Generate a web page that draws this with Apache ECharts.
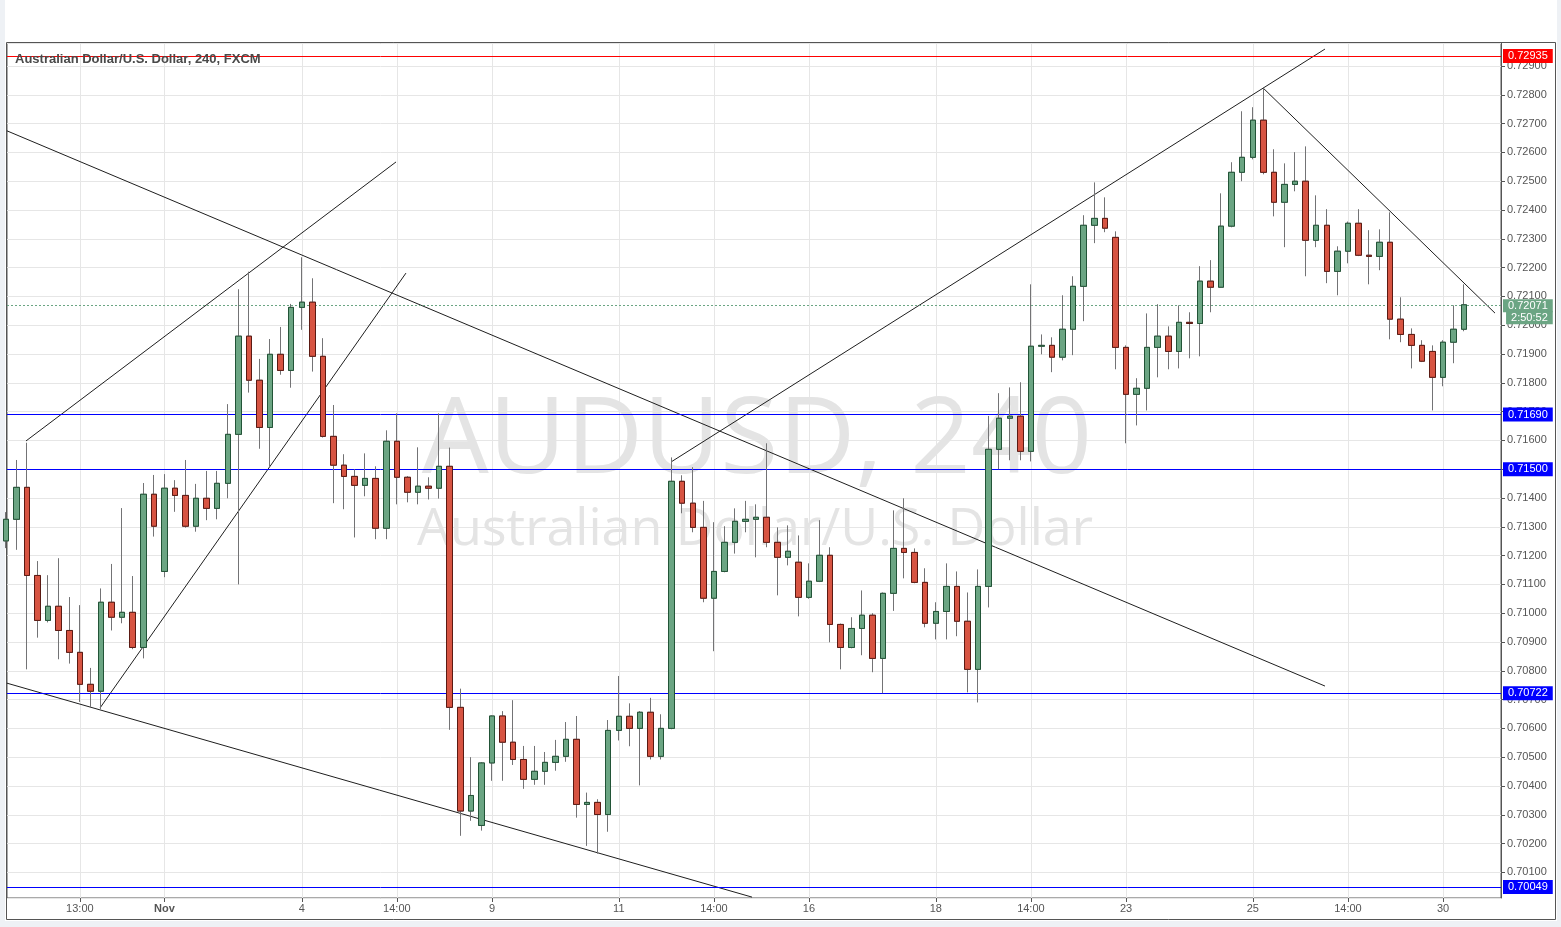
<!DOCTYPE html>
<html>
<head>
<meta charset="utf-8">
<script src="https://cdn.jsdelivr.net/npm/echarts@6/dist/echarts.min.js"></script>
<style>
html,body{margin:0;padding:0;background:#eef1f5;overflow:hidden;}
#paper{position:absolute;left:5px;top:0;width:1552px;height:921px;background:#fff;}
#c{position:absolute;left:0;top:0;width:1561px;height:927px;}
</style>
</head>
<body>
<div id="paper"></div>
<div id="c"></div>
<script>
// ---- data (AUD/USD, 240 min candles, FXCM) ----
const open = [0.71251,0.71326,0.71437,0.71131,0.70975,0.71024,0.70940,0.70864,0.70753,0.70729,
0.71038,0.70986,0.71003,0.70881,0.71413,0.71145,0.71434,0.71409,0.71302,0.71399,
0.71364,0.71451,0.71621,0.71962,0.71809,0.71645,0.71899,0.71843,0.72062,0.72080,
0.71892,0.71614,0.71514,0.71475,0.71444,0.71468,0.71295,0.71597,0.71472,0.71420,
0.71441,0.71434,0.71510,0.70673,0.70313,0.70263,0.70480,0.70643,0.70552,0.70492,
0.70423,0.70451,0.70482,0.70503,0.70562,0.70336,0.70343,0.70301,0.70593,0.70642,
0.70600,0.70656,0.70503,0.70600,0.71458,0.71382,0.71298,0.71052,0.71145,0.71246,
0.71319,0.71326,0.71333,0.71246,0.71194,0.71177,0.71055,0.71111,0.71201,0.70961,
0.70881,0.70947,0.70993,0.70843,0.71069,0.71225,0.71211,0.71107,0.70965,0.71006,
0.71093,0.70972,0.70805,0.71093,0.71569,0.71677,0.71684,0.71562,0.71927,0.71930,
0.71889,0.71986,0.72135,0.72347,0.72371,0.72305,0.71923,0.71760,0.71781,0.71923,
0.71962,0.71909,0.72010,0.72006,0.72153,0.72132,0.72344,0.72531,0.72583,0.72712,
0.72531,0.72427,0.72489,0.72500,0.72295,0.72347,0.72187,0.72257,0.72354,0.72243,
0.72239,0.72288,0.72021,0.71968,0.71930,0.71909,0.71819,0.71941,0.71986];
const close = [0.71326,0.71437,0.71131,0.70975,0.71024,0.70940,0.70864,0.70753,0.70729,0.71038,
0.70986,0.71003,0.70881,0.71413,0.71302,0.71434,0.71409,0.71302,0.71399,0.71364,
0.71451,0.71621,0.71962,0.71809,0.71645,0.71899,0.71843,0.72062,0.72080,0.71892,
0.71614,0.71514,0.71475,0.71444,0.71468,0.71295,0.71597,0.71472,0.71420,0.71441,
0.71434,0.71510,0.70673,0.70313,0.70367,0.70480,0.70643,0.70552,0.70492,0.70423,
0.70451,0.70482,0.70503,0.70562,0.70336,0.70343,0.70301,0.70593,0.70642,0.70600,
0.70656,0.70503,0.70600,0.71458,0.71382,0.71298,0.71052,0.71145,0.71246,0.71319,
0.71326,0.71333,0.71246,0.71194,0.71215,0.71055,0.71111,0.71201,0.70961,0.70881,
0.70947,0.70993,0.70843,0.71069,0.71225,0.71211,0.71107,0.70965,0.71006,0.71093,
0.70972,0.70805,0.71093,0.71569,0.71677,0.71684,0.71562,0.71927,0.71930,0.71889,
0.71986,0.72135,0.72347,0.72371,0.72337,0.71923,0.71760,0.71781,0.71923,0.71962,
0.71909,0.72010,0.72006,0.72153,0.72132,0.72344,0.72531,0.72583,0.72712,0.72531,
0.72427,0.72489,0.72500,0.72295,0.72347,0.72187,0.72257,0.72354,0.72243,0.72239,
0.72288,0.72021,0.71968,0.71930,0.71875,0.71819,0.71941,0.71986,0.72071];
const high = [0.71351,0.71532,0.71592,0.71181,0.71132,0.71191,0.71056,0.71028,0.70810,0.71086,
0.71171,0.71365,0.71129,0.71452,0.71480,0.71483,0.71462,0.71532,0.71449,0.71494,
0.71494,0.71726,0.72125,0.72186,0.71883,0.71952,0.71994,0.72074,0.72236,0.72163,
0.71955,0.71723,0.71552,0.71500,0.71555,0.71510,0.71635,0.71694,0.71476,0.71576,
0.71472,0.71694,0.71575,0.70738,0.70500,0.70483,0.70645,0.70660,0.70698,0.70539,
0.70539,0.70518,0.70560,0.70622,0.70643,0.70377,0.70354,0.70629,0.70782,0.70687,
0.70660,0.70706,0.70649,0.71541,0.71479,0.71507,0.71390,0.71316,0.71302,0.71364,
0.71390,0.71378,0.71590,0.71298,0.71305,0.71270,0.71173,0.71323,0.71229,0.70964,
0.70986,0.71079,0.71000,0.71072,0.71357,0.71399,0.71225,0.71156,0.71038,0.71173,
0.71145,0.71072,0.71152,0.71685,0.71764,0.71784,0.71802,0.72142,0.71968,0.71958,
0.72104,0.72170,0.72382,0.72496,0.72444,0.72326,0.71930,0.71816,0.72041,0.72073,
0.71996,0.72069,0.72045,0.72205,0.72226,0.72458,0.72566,0.72743,0.72757,0.72823,
0.72611,0.72562,0.72601,0.72621,0.72451,0.72403,0.72274,0.72360,0.72403,0.72330,
0.72333,0.72392,0.72097,0.71989,0.71948,0.71930,0.71948,0.72069,0.72142];
const low = [0.71226,0.71220,0.70805,0.70915,0.70968,0.70840,0.70825,0.70692,0.70673,0.70666,
0.70940,0.70965,0.70875,0.70843,0.71266,0.71125,0.71352,0.71297,0.71283,0.71323,
0.71326,0.71399,0.71100,0.71766,0.71571,0.71509,0.71828,0.71783,0.71984,0.71839,
0.71610,0.71382,0.71361,0.71263,0.71406,0.71257,0.71257,0.71378,0.71385,0.71378,
0.71395,0.71398,0.70595,0.70227,0.70279,0.70245,0.70418,0.70418,0.70473,0.70390,
0.70404,0.70404,0.70453,0.70484,0.70290,0.70192,0.70165,0.70241,0.70558,0.70538,
0.70402,0.70492,0.70492,0.70597,0.71347,0.71281,0.71038,0.70868,0.71142,0.71207,
0.71281,0.71194,0.71229,0.71062,0.71166,0.70989,0.71050,0.71108,0.70899,0.70805,
0.70878,0.70854,0.70795,0.70722,0.71008,0.71121,0.71104,0.70951,0.70909,0.70909,
0.70920,0.70725,0.70690,0.71020,0.71500,0.71531,0.71531,0.71527,0.71899,0.71837,
0.71878,0.71896,0.72014,0.72285,0.72323,0.71847,0.71590,0.71652,0.71704,0.71819,
0.71847,0.71850,0.71885,0.71892,0.72045,0.72130,0.72340,0.72500,0.72576,0.72524,
0.72378,0.72271,0.72465,0.72170,0.72271,0.72146,0.72104,0.72215,0.72240,0.72142,
0.72191,0.71951,0.71941,0.71850,0.71872,0.71704,0.71788,0.71868,0.71979];

// x-axis tick labels (candle index -> label)
const tickIndex  = [7, 15, 28, 37, 46, 58, 67, 76, 88, 97, 106, 118, 127, 136];
const tickLabels = ['13:00','Nov','4','14:00','9','11','14:00','16','18','14:00','23','25','14:00','30'];
const boldTicks  = ['Nov'];

// horizontal levels
const levelValues = [0.72935, 0.71690, 0.71500, 0.70722, 0.70049];
const lastPrice = 0.72071;
const countdown = '2:50:52';

// hand-drawn trend lines: [candleIndex, price] endpoints
const trendLines = [
  [[1.90, 0.71598], [36.92, 0.72567]],
  [[8.91, 0.70671], [37.86, 0.72181]],
  [[0.10, 0.72675], [124.83, 0.70747]],
  [[0.10, 0.70757], [70.61, 0.70014]],
  [[62.94, 0.71525], [124.83, 0.72959]],
  [[118.97, 0.72824], [140.92, 0.72042]]
];

const symbolTitle = 'Australian Dollar/U.S. Dollar, 240, FXCM';
const watermark1 = 'AUDUSD, 240';
const watermark2 = 'Australian Dollar/U.S. Dollar';

// ---- layout ----
const Y_MIN = 0.70011, Y_MAX = 0.72980;
const EXTRA = 3;                      // empty slots on the right
const nCat = open.length + EXTRA;
const categories = Array.from({length: nCat}, (_, i) => String(i));
const tickMap = {};
tickIndex.forEach((idx, k) => { tickMap[idx] = tickLabels[k]; });
const isTick = (i) => tickMap[i] !== undefined;

const X0 = 5.9, STEP = 10.567;        // pixel of candle 0 and candle spacing
const PLOT_L = 7, PLOT_R = 1501, PLOT_T = 43, PLOT_B = 898;
const candleRight = X0 + (nCat - 1) * STEP;

const GREEN = '#6ba583', RED = '#d75442';
const GREEN_B = '#225437', RED_B = '#5b1a13';
const WICK = '#737375';
const FONT = '"Liberation Sans", Arial, sans-serif';

const levelColors = ['#ff0000', '#0000ff', '#0000ff', '#0000ff', '#0000ff'];

const fullData = open.map((o, i) => [o, close[i], low[i], high[i]]);
const bodyData = open.map((o, i) => [o, close[i], Math.min(o, close[i]), Math.max(o, close[i])]);

const chart = echarts.init(document.getElementById('c'), null, {renderer: 'canvas'});

const markData = levelValues.map((v, k) => ({
  yAxis: v,
  lineStyle: {color: levelColors[k], width: 1, type: 'solid'},
  label: {
    show: true, position: 'end', distance: 2,
    formatter: () => v.toFixed(5),
    color: '#fff', backgroundColor: levelColors[k],
    padding: [1, 5, 1, 5], fontSize: 11, lineHeight: 12, fontFamily: FONT
  }
}));
markData.push({
  yAxis: lastPrice,
  lineStyle: {color: GREEN, width: 1, type: [2, 2]},
  label: {
    show: true, position: 'end', distance: 2, offset: [0, 7],
    formatter: () => '{a|' + lastPrice.toFixed(5) + '}\n{b|' + countdown + '}',
    rich: {
      a: {color: '#fff', backgroundColor: GREEN, padding: [1, 5, 1, 5], fontSize: 11, lineHeight: 12, fontFamily: FONT},
      b: {color: '#fff', backgroundColor: GREEN, padding: [1, 5, 1, 5], fontSize: 11, lineHeight: 12, fontFamily: FONT, align: 'right'}
    }
  }
});

const option = {
  animation: false,
  title: {
    text: symbolTitle, left: 15, top: 53, padding: 0,
    textStyle: {fontSize: 13, fontWeight: 'bold', color: '#4a4a4a', fontFamily: FONT}
  },
  grid: [
    {left: PLOT_L, right: 1561 - PLOT_R, top: PLOT_T, bottom: 927 - PLOT_B,
     show: true, borderColor: '#555', borderWidth: 1, backgroundColor: 'transparent'},
    {left: X0, right: 1561 - candleRight, top: PLOT_T, bottom: 927 - PLOT_B}
  ],
  xAxis: [
    {gridIndex: 0, type: 'value', show: false,
     min: (PLOT_L - X0) / STEP, max: (PLOT_R - X0) / STEP},
    {gridIndex: 1, type: 'category', data: categories, boundaryGap: false,
     axisLine: {show: false},
     axisTick: {show: true, interval: (i) => isTick(i), length: 4, lineStyle: {color: '#555'}},
     axisLabel: {
       interval: (i) => isTick(i), margin: 5, color: '#555', fontSize: 11, fontFamily: FONT,
       formatter: (val) => {
         const t = tickMap[+val];
         return boldTicks.includes(t) ? '{b|' + t + '}' : t;
       },
       rich: {b: {fontWeight: 'bold', color: '#555', fontSize: 11, fontFamily: FONT}}
     },
     splitLine: {show: true, interval: (i) => isTick(i), lineStyle: {color: '#e6e6e6', width: 1}}
    }
  ],
  yAxis: [
    {gridIndex: 0, type: 'value', position: 'right', min: Y_MIN, max: Y_MAX, splitNumber: 30,
     axisLine: {show: true, lineStyle: {color: '#555'}},
     axisTick: {show: true, length: 4, lineStyle: {color: '#555'}},
     axisLabel: {color: '#555', fontSize: 11, fontFamily: FONT, margin: 6,
       showMinLabel: false, showMaxLabel: false, formatter: (v) => v.toFixed(5)},
     splitLine: {show: true, lineStyle: {color: '#e6e6e6', width: 1}}
    },
    {gridIndex: 1, type: 'value', min: Y_MIN, max: Y_MAX, show: false}
  ],
  graphic: [
    {type: 'rect', z: -10, silent: true,
     shape: {x: 6.5, y: 42.5, width: 1549, height: 877},
     style: {fill: 'none', stroke: '#555', lineWidth: 1}},
    {type: 'text', z: 1, silent: true, x: 757, y: 443,
     style: {text: watermark1, font: '106px "Open Sans", sans-serif', fill: '#e4e4e4', align: 'center', verticalAlign: 'middle'}},
    {type: 'text', z: 1, silent: true, x: 755, y: 530,
     style: {text: watermark2, font: '52px "Open Sans", sans-serif', fill: '#e4e4e4', align: 'center', verticalAlign: 'middle'}}
  ],
  series: [
    {
      type: 'line', xAxisIndex: 0, yAxisIndex: 0, data: [], silent: true,
      markLine: {symbol: 'none', silent: true, animation: false, precision: 5, data: markData}
    },
    ...trendLines.map((pts) => ({
      type: 'line', xAxisIndex: 0, yAxisIndex: 0, data: pts, symbol: 'none', silent: true,
      clip: true, z: 4, lineStyle: {color: '#1e1e1e', width: 1}
    })),
    {
      type: 'candlestick', xAxisIndex: 1, yAxisIndex: 1, data: fullData, barWidth: 6, clip: true,
      silent: true, z: 5,
      itemStyle: {color: GREEN, color0: RED, borderColor: WICK, borderColor0: WICK, borderWidth: 1}
    },
    {
      type: 'candlestick', xAxisIndex: 1, yAxisIndex: 1, data: bodyData, barWidth: 6, clip: true,
      silent: true, z: 6,
      itemStyle: {color: GREEN, color0: RED, borderColor: GREEN_B, borderColor0: RED_B, borderWidth: 1}
    }
  ]
};
chart.setOption(option);
</script>
</body>
</html>
